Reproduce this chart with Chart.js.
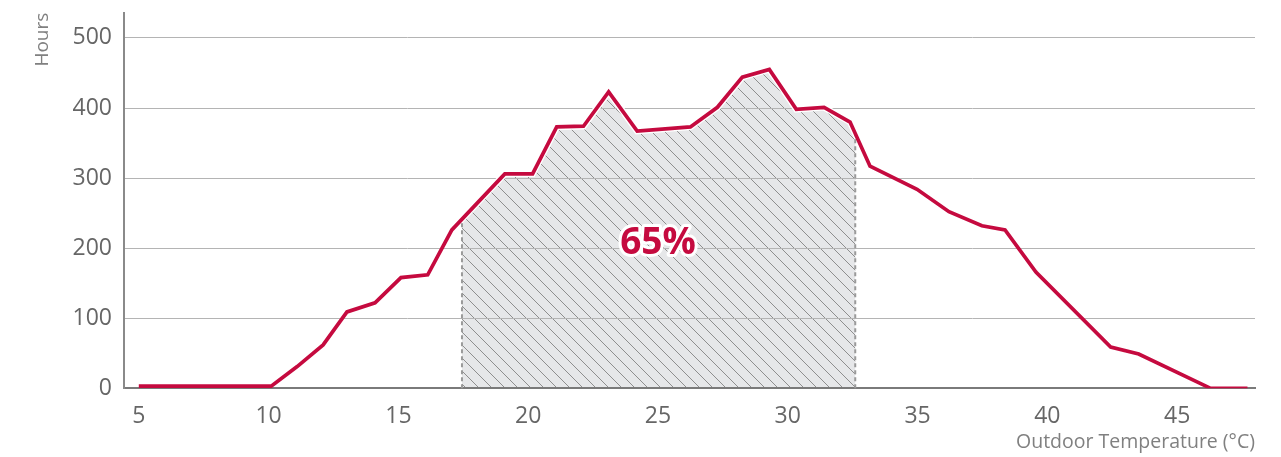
<!DOCTYPE html>
<html>
<head>
<meta charset="utf-8">
<script src="https://cdn.jsdelivr.net/npm/chart.js@4.4.1/dist/chart.umd.min.js"></script>
<style>
  html, body { margin: 0; padding: 0; background: #fff; overflow: hidden; }
  canvas { display: block; }
</style>
</head>
<body>
<canvas id="c" width="1281" height="457"></canvas>
<script>
// ---- Data ----
const temperatures = [5.0, 10.1, 11.1, 12.1, 13.02, 14.1, 15.1, 16.13, 17.06, 19.1, 20.17, 21.1, 22.13, 23.1, 24.2, 26.25, 27.29, 28.25, 29.29, 30.33, 31.4, 32.4, 33.17, 34.98, 36.21, 37.48, 38.37, 39.56, 42.44, 43.52, 46.29, 47.71];
const hours        = [3,   3,    31,   62,   109,   122,  158,  162,   226,   306,  306,   373,  374,   423,  367,  373,   401,   444,   455,   398,   401,  380,  317,   284,   252,   232,   226,   166,   59,    49,    0,     0];
const xTickValues = [5, 10, 15, 20, 25, 30, 35, 40, 45];
const yTickValues = [0, 100, 200, 300, 400, 500];
const shadedRange = [17.45, 32.6];
const shadedLabel = '65%';
const shadedLabelAt = [25, 207];
const xTitle = 'Outdoor Temperature (°C)';
const yTitle = 'Hours';

const RED = '#c50a3f';
const FONT = '"Open Sans", "DejaVu Sans", sans-serif';

// hatch pattern
function makePattern(ctx) {
  const s = 13;
  const pc = document.createElement('canvas');
  pc.width = s; pc.height = s;
  const g = pc.getContext('2d');
  g.fillStyle = '#e6e7e9';
  g.fillRect(0, 0, s, s);
  g.strokeStyle = '#8e8e8e';
  g.lineWidth = 1;
  g.beginPath();
  g.moveTo(-1, -1); g.lineTo(s + 1, s + 1);
  g.moveTo(-1, s - 1); g.lineTo(1, s + 1);
  g.moveTo(s - 1, -1); g.lineTo(s + 1, 1);
  g.stroke();
  return ctx.createPattern(pc, 'repeat');
}

function curveYAt(pts, px) {
  for (let i = 0; i < pts.length - 1; i++) {
    const a = pts[i], b = pts[i + 1];
    if (px >= a.x && px <= b.x) {
      const t = (px - a.x) / (b.x - a.x);
      return a.y + t * (b.y - a.y);
    }
  }
  return pts[pts.length - 1].y;
}

const shadePlugin = {
  id: 'shade',
  beforeDraw(chart) {
    const ctx = chart.ctx;
    const pts = chart.getDatasetMeta(0).data;
    const xs = chart.scales.x, ys = chart.scales.y;
    const x0 = xs.getPixelForValue(shadedRange[0]);
    const x1 = xs.getPixelForValue(shadedRange[1]);
    const base = ys.getPixelForValue(0);
    ctx.save();
    ctx.beginPath();
    ctx.rect(x0, chart.chartArea.top, x1 - x0, base - chart.chartArea.top);
    ctx.clip();
    ctx.beginPath();
    ctx.moveTo(pts[0].x, base);
    pts.forEach(p => ctx.lineTo(p.x, p.y));
    ctx.lineTo(pts[pts.length - 1].x, base);
    ctx.closePath();
    ctx.fillStyle = makePattern(ctx);
    ctx.fill();
    ctx.restore();
  },
  beforeDatasetsDraw(chart) {
    const ctx = chart.ctx;
    const pts = chart.getDatasetMeta(0).data;
    const xs = chart.scales.x, ys = chart.scales.y;
    const x0 = xs.getPixelForValue(shadedRange[0]);
    const x1 = xs.getPixelForValue(shadedRange[1]);
    const base = ys.getPixelForValue(0);
    ctx.save();
    ctx.beginPath();
    ctx.rect(x0 - 2, chart.chartArea.top, x1 - x0 + 4, base - chart.chartArea.top);
    ctx.clip();
    ctx.beginPath();
    pts.forEach((p, i) => i ? ctx.lineTo(p.x, p.y) : ctx.moveTo(p.x, p.y));
    ctx.strokeStyle = '#ffffff';
    ctx.lineWidth = 6.5;
    ctx.lineJoin = 'miter';
    ctx.stroke();
    ctx.restore();
    ctx.save();
    ctx.setLineDash([4, 3]);
    ctx.strokeStyle = '#9a9a9a';
    ctx.lineWidth = 2;
    [x0, x1].forEach(px => {
      ctx.beginPath();
      ctx.moveTo(px, base);
      ctx.lineTo(px, curveYAt(pts, px) + 2);
      ctx.stroke();
    });
    ctx.restore();
  },
  afterDatasetsDraw(chart) {
    const ctx = chart.ctx;
    const xs = chart.scales.x, ys = chart.scales.y;
    const px = xs.getPixelForValue(shadedLabelAt[0]);
    const py = ys.getPixelForValue(shadedLabelAt[1]);
    ctx.save();
    ctx.font = 'bold 37px ' + FONT;
    ctx.textAlign = 'center';
    ctx.textBaseline = 'middle';
    ctx.lineJoin = 'round';
    ctx.strokeStyle = '#ffffff';
    ctx.lineWidth = 6;
    ctx.strokeText(shadedLabel, px, py);
    ctx.fillStyle = RED;
    ctx.fillText(shadedLabel, px, py);
    ctx.restore();
  }
};

new Chart(document.getElementById('c'), {
  type: 'line',
  data: {
    datasets: [{
      data: temperatures.map((t, i) => ({ x: t, y: hours[i] })),
      borderColor: RED,
      borderWidth: 3.7,
      pointRadius: 0,
      tension: 0,
      fill: false,
      borderJoinStyle: 'miter'
    }]
  },
  options: {
    responsive: false,
    animation: false,
    events: [],
    layout: { padding: { top: 12.7, right: 26, left: 0, bottom: 0 } },
    plugins: { legend: { display: false }, tooltip: { enabled: false } },
    scales: {
      x: {
        type: 'linear',
        min: 4.43,
        max: 48,
        afterBuildTicks: s => { s.ticks = xTickValues.map(v => ({ value: v })); },
        afterFit: s => { s.height = 68.7; s.paddingLeft = 0; s.paddingRight = 0; },
        grid: { display: false, drawTicks: false },
        border: { display: true, color: '#7a7a7a', width: 2 },
        ticks: { color: '#666666', font: { family: FONT, size: 23 }, padding: 14.6, maxRotation: 0 },
        title: {
          display: true, text: xTitle, align: 'end', color: '#808080',
          font: { family: FONT, size: 19.5 }, padding: { top: 0, bottom: 2.5 }
        }
      },
      y: {
        min: 0,
        max: 536,
        afterBuildTicks: s => { s.ticks = yTickValues.map(v => ({ value: v })); },
        afterFit: s => { s.width = 124; s.paddingTop = 0; s.paddingBottom = 0; },
        grid: { color: '#b4b4b4', lineWidth: 1, drawTicks: false },
        border: { display: true, color: '#8a8a8a', width: 2 },
        ticks: { color: '#666666', font: { family: FONT, size: 23 }, padding: 12 },
        title: {
          display: true, text: yTitle, align: 'end', color: '#808080',
          font: { family: FONT, size: 19 }, padding: { top: 31.6, bottom: 0 }
        }
      }
    }
  },
  plugins: [shadePlugin]
});
</script>
</body>
</html>
